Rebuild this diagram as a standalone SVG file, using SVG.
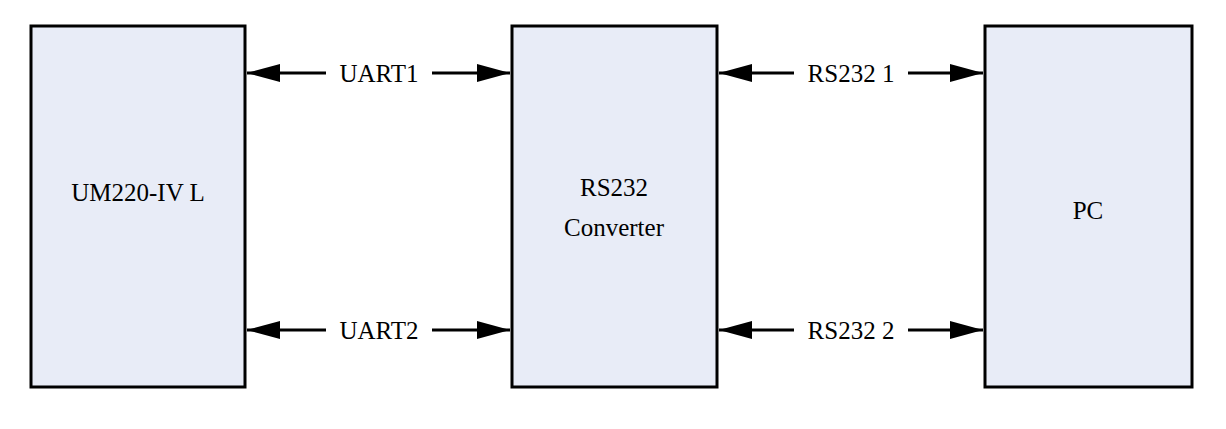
<svg xmlns="http://www.w3.org/2000/svg" width="1226" height="429" viewBox="0 0 1226 429">
<style>
.box{fill:#E8ECF7;stroke:#000;stroke-width:3}
.t{font-family:"Liberation Serif",serif;font-size:25px;fill:#000;text-anchor:middle}
.c{stroke:#000;stroke-width:3;fill:none}
</style>
<defs>
<marker id="a" markerWidth="11" markerHeight="6" refX="11" refY="3" orient="auto-start-reverse" markerUnits="strokeWidth" viewBox="0 0 11 6"><path d="M0,0L11,3L0,6z" fill="#000"/></marker>
</defs>
<rect width="1226" height="429" fill="#fff"/>
<g id="um220"><rect class="box" x="31" y="26" width="214" height="361"/><text class="t" x="138" y="201">UM220-IV L</text></g>
<g id="rs232"><rect class="box" x="512" y="26" width="205" height="361"/><text class="t" x="614" y="196">RS232</text><text class="t" x="614" y="236">Converter</text></g>
<g id="pc"><rect class="box" x="985" y="26" width="207" height="361"/><text class="t" x="1088" y="219">PC</text></g>
<g id="connectors">
<line class="c" x1="247" y1="73" x2="510" y2="73" marker-start="url(#a)" marker-end="url(#a)"/>
<line class="c" x1="247" y1="330" x2="510" y2="330" marker-start="url(#a)" marker-end="url(#a)"/>
<line class="c" x1="719" y1="73" x2="983" y2="73" marker-start="url(#a)" marker-end="url(#a)"/>
<line class="c" x1="719" y1="330" x2="983" y2="330" marker-start="url(#a)" marker-end="url(#a)"/>
<rect x="326" y="58" width="106" height="30" fill="#fff"/><text class="t" x="379" y="82">UART1</text>
<rect x="326" y="315" width="106" height="30" fill="#fff"/><text class="t" x="379" y="339">UART2</text>
<rect x="794" y="58" width="114" height="30" fill="#fff"/><text class="t" x="851" y="82">RS232 1</text>
<rect x="794" y="315" width="114" height="30" fill="#fff"/><text class="t" x="851" y="339">RS232 2</text>
</g>
</svg>
